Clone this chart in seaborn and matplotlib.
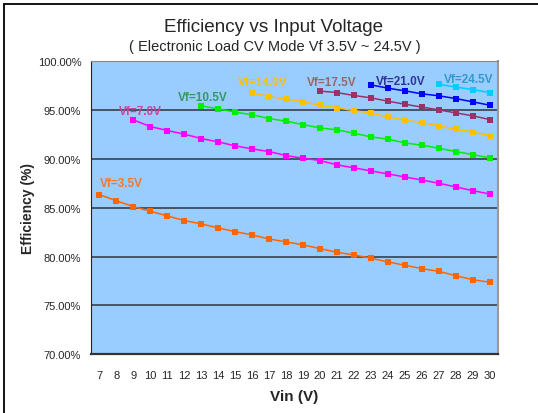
import pandas as pd
import matplotlib.pyplot as plt
import seaborn as sns
from matplotlib.lines import Line2D

# データ
vin = list(range(7, 31))
eff_35 = [86.35, 85.71, 85.12, 84.65, 84.17, 83.69, 83.35, 82.94, 82.56, 82.22, 81.81, 81.51,
          81.20, 80.82, 80.45, 80.17, 79.84, 79.46, 79.12, 78.77, 78.50, 78.05, 77.64, 77.38]
eff_70 = [94.00, 93.32, 92.91, 92.54, 92.09, 91.75, 91.34, 91.03, 90.76, 90.35, 90.08,
          89.84, 89.40, 89.09, 88.78, 88.47, 88.16, 87.85, 87.52, 87.14, 86.76, 86.42]
eff_105 = [95.44, 95.13, 94.80, 94.52, 94.14, 93.87, 93.52, 93.18, 92.98, 92.64, 92.26,
           92.03, 91.65, 91.41, 91.11, 90.76, 90.45, 90.11]
eff_140 = [96.77, 96.39, 96.13, 95.85, 95.51, 95.24, 94.96, 94.69, 94.31, 93.98, 93.73,
           93.39, 93.05, 92.77, 92.40]
eff_175 = [96.95, 96.80, 96.50, 96.26, 95.92, 95.61, 95.31, 95.03, 94.72, 94.42, 94.04]
eff_210 = [97.59, 97.25, 96.98, 96.67, 96.47, 96.19, 95.85, 95.51]
eff_245 = [97.66, 97.36, 97.11, 96.80]

series_names = ["Vf=3.5V", "Vf=7.0V", "Vf=10.5V", "Vf=14.0V", "Vf=17.5V", "Vf=21.0V", "Vf=24.5V"]
series_vals = [eff_35, eff_70, eff_105, eff_140, eff_175, eff_210, eff_245]
yticks = [70, 75, 80, 85, 90, 95, 100]

# 色とラベル位置
line_colors = ["#FF6600", "#FF00FF", "#00EE00", "#FFC000", "#993366", "#0000FF", "#00CCFF"]
label_colors = ["#F07830", "#CC4499", "#339966", "#FFC000", "#996666", "#333399", "#3399CC"]
label_pos = [(8.28, 87.55), (9.4, 94.93), (13.07, 96.36), (16.62, 97.9),
             (20.7, 97.9), (24.78, 98.0), (28.75, 98.2)]

rows = []
for name, vals in zip(series_names, series_vals):
    for v, e in zip(vin[len(vin) - len(vals):], vals):
        rows.append({"vin": v, "eff": e, "series": name})
df = pd.DataFrame(rows)

sns.set_style("white")
plt.rcParams["font.family"] = ["Liberation Sans", "DejaVu Sans"]

fig = plt.figure(figsize=(5.38, 4.14), dpi=100)
ax = fig.add_axes([91 / 538, 58.7 / 414, 407 / 538, 293 / 414])
ax.set_facecolor("#99CCFF")

sns.lineplot(data=df, x="vin", y="eff", hue="series", palette=dict(zip(series_names, line_colors)),
             marker="s", markersize=4.8, markeredgewidth=0, linewidth=1.1, legend=False, ax=ax)

for name, (lx, ly), c in zip(series_names, label_pos, label_colors):
    ax.text(lx, ly, name, color=c, fontsize=8.5, fontweight="bold", ha="center", va="center")

ax.set_xlim(6.5, 30.5)
ax.set_ylim(70, 100)
ax.set_xticks(vin)
ax.set_xticklabels([str(v) for v in vin], fontsize=8)
ax.set_yticks(yticks)
ax.set_yticklabels([f"{y:.2f}%" for y in yticks], fontsize=8)
ax.tick_params(length=0)
ax.tick_params(axis="x", pad=11)
ax.tick_params(axis="y", pad=7)
for y in yticks[1:-1]:
    ax.axhline(y, color="#3C4B5C", linewidth=1.3, zorder=0.5)

ax.spines["left"].set_color("#222222")
ax.spines["bottom"].set_color("#333333")
ax.spines["bottom"].set_linewidth(1.6)
ax.spines["top"].set_color("#888888")
ax.spines["right"].set_color("#999999")
ax.spines["right"].set_linewidth(1.5)

ax.set_xlabel("Vin (V)", fontsize=11, fontweight="bold", labelpad=7)
ax.set_ylabel("Efficiency (%)", fontsize=10, fontweight="bold", labelpad=2)

fig.text(274 / 538, 1 - 28 / 414, "Efficiency vs Input Voltage", fontsize=13.6, ha="center", va="center")
fig.text(275 / 538, 1 - 46.5 / 414, "( Electronic Load CV Mode Vf 3.5V ~ 24.5V )", fontsize=10.5,
         ha="center", va="center")

# 外枠
fig.add_artist(Line2D([4 / 538, 1], [1 - 5 / 414, 1 - 5 / 414], color="black", linewidth=1.3))
fig.add_artist(Line2D([4 / 538, 4 / 538], [0, 1 - 5 / 414], color="black", linewidth=1.3))

fig.savefig("out.png", dpi=100)
